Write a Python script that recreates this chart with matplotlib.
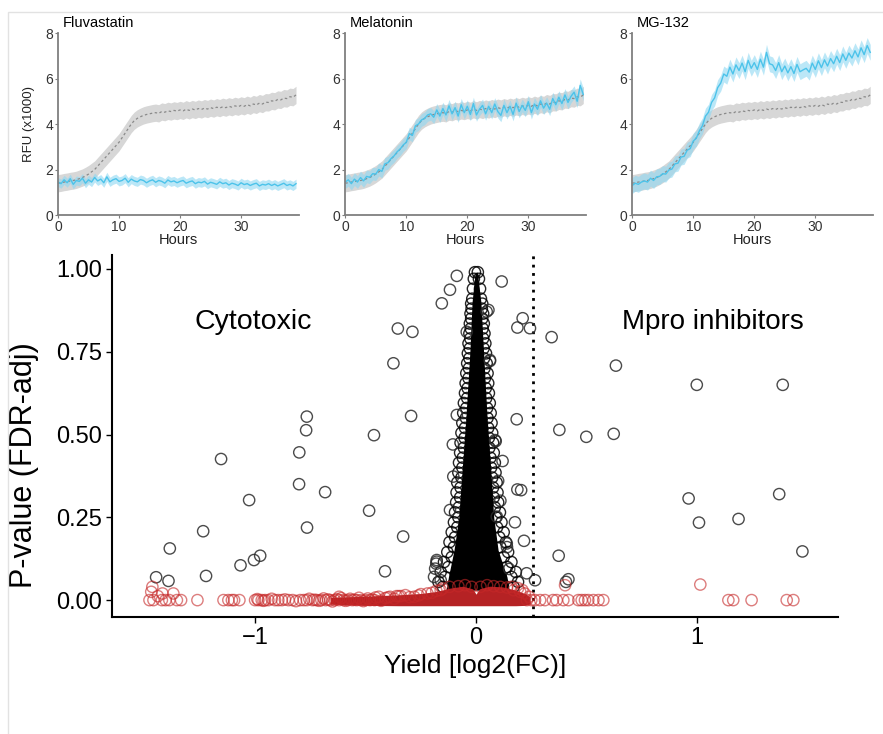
import numpy as np
import matplotlib
matplotlib.use("Agg")
import matplotlib.pyplot as plt
from matplotlib.patches import Rectangle

plt.rcParams["font.family"] = ["Liberation Sans", "DejaVu Sans"]

# ---------------- time course data (RFU x1000, every 0.5 h) ----------------
hours = np.arange(0, 39.5, 0.5)

control = [1.40, 1.42, 1.45, 1.47, 1.50, 1.52, 1.55, 1.60, 1.65, 1.72,
           1.80, 1.90, 2.00, 2.15, 2.30, 2.45, 2.60, 2.75, 2.90, 3.05,
           3.20, 3.40, 3.60, 3.80, 4.00, 4.15, 4.25, 4.32, 4.38, 4.42,
           4.45, 4.48, 4.50, 4.47, 4.55, 4.52, 4.58, 4.55, 4.60, 4.57,
           4.62, 4.58, 4.65, 4.60, 4.66, 4.62, 4.68, 4.64, 4.70, 4.66,
           4.72, 4.68, 4.74, 4.70, 4.76, 4.72, 4.78, 4.74, 4.80, 4.76,
           4.82, 4.78, 4.85, 4.80, 4.88, 4.84, 4.92, 4.88, 4.96, 4.95,
           5.02, 5.00, 5.08, 5.06, 5.14, 5.12, 5.20, 5.18, 5.28]

fluvastatin = [1.45, 1.38, 1.55, 1.42, 1.60, 1.35, 1.52, 1.48, 1.62, 1.40,
               1.55, 1.45, 1.65, 1.50, 1.58, 1.42, 1.68, 1.46, 1.55, 1.60,
               1.48, 1.52, 1.62, 1.44, 1.58, 1.50, 1.46, 1.56, 1.52, 1.42,
               1.50, 1.55, 1.44, 1.52, 1.48, 1.40, 1.54, 1.46, 1.50, 1.42,
               1.48, 1.52, 1.40, 1.46, 1.50, 1.38, 1.45, 1.42, 1.48, 1.36,
               1.44, 1.40, 1.35, 1.46, 1.38, 1.42, 1.32, 1.40, 1.36, 1.30,
               1.42, 1.34, 1.38, 1.30, 1.36, 1.40, 1.28, 1.35, 1.32, 1.38,
               1.30, 1.36, 1.28, 1.34, 1.40, 1.30, 1.35, 1.28, 1.38]

melatonin = [1.45, 1.55, 1.38, 1.58, 1.45, 1.65, 1.50, 1.70, 1.66, 1.82,
             1.80, 2.00, 1.92, 2.25, 2.30, 2.48, 2.60, 2.78, 2.90, 3.08,
             3.20, 3.58, 3.50, 3.92, 4.00, 4.18, 4.25, 4.40, 4.45, 4.30,
             4.62, 4.35, 4.68, 4.40, 4.80, 4.45, 4.72, 4.35, 4.85, 4.50,
             4.78, 4.42, 4.90, 4.40, 4.65, 4.82, 4.45, 4.78, 4.50, 4.88,
             4.55, 4.38, 4.82, 4.50, 4.78, 4.42, 4.92, 4.55, 4.82, 4.60,
             4.98, 4.50, 4.88, 4.65, 5.02, 4.70, 4.92, 4.65, 5.12, 4.85,
             5.18, 4.90, 5.28, 4.95, 5.22, 5.40, 5.00, 5.70, 5.30]

mg132 = [1.30, 1.40, 1.35, 1.45, 1.50, 1.45, 1.62, 1.52, 1.68, 1.70,
         1.82, 1.80, 1.98, 2.02, 2.25, 2.28, 2.55, 2.58, 2.85, 2.92,
         3.25, 3.38, 3.70, 3.92, 4.35, 4.52, 4.95, 5.15, 5.60, 5.80,
         6.20, 6.10, 6.50, 6.20, 6.60, 6.35, 6.68, 6.30, 6.80, 6.45,
         6.70, 6.40, 6.85, 6.50, 7.15, 6.65, 6.60, 6.35, 6.70, 6.30,
         6.55, 6.25, 6.52, 6.22, 6.62, 6.30, 6.38, 6.45, 6.28, 6.68,
         6.40, 6.78, 6.48, 6.82, 6.55, 6.88, 6.65, 6.98, 6.70, 7.08,
         6.80, 7.12, 6.90, 7.22, 6.95, 7.35, 7.05, 7.45, 7.15]

panel_names = ["Fluvastatin", "Melatonin", "MG-132"]
panel_series = [fluvastatin, melatonin, mg132]
panel_spread = [0.2, 0.28, 0.35]   # half width of the blue band
control_spread = 0.38

# ---------------- volcano data ----------------
# scattered black points (yield, p-value)
black_x = [-0.087, -0.118, -0.155, 0.116, -0.354, -0.288, -0.374, 0.048, 0.211, 0.187,
           0.244, 0.342, 0.063, -0.766, -0.769, -0.294, -0.462, -0.800, -1.154, -0.801,
           -0.683, -1.027, -0.484, -0.765, -1.235, -0.330, -1.386, -0.977, -1.005, -1.066,
           -1.222, -1.448, -1.392, -0.412, 0.184, 0.187, 0.176, 0.217, 0.229, 0.267,
           0.089, -0.178, -0.185, 0.633, 0.999, 1.388, 0.377, 0.499, 0.623, 0.962,
           1.009, 1.188, 1.372, 1.477, 0.374, 0.418, 0.407, 0.204, -0.042, 0.056,
           0.063, -0.087, 0.086, -0.103, 0.100, 0.094, -0.118, -0.178, -0.180, 0.139,
           0.140, 0.150, -0.190, -0.160, 0.120, 0.110, -0.105]
black_p = [0.979, 0.937, 0.896, 0.962, 0.820, 0.810, 0.715, 0.871, 0.851, 0.823,
           0.821, 0.794, 0.722, 0.554, 0.513, 0.556, 0.498, 0.446, 0.426, 0.350,
           0.326, 0.302, 0.270, 0.219, 0.208, 0.192, 0.156, 0.134, 0.121, 0.105,
           0.073, 0.069, 0.058, 0.087, 0.546, 0.334, 0.235, 0.179, 0.081, 0.060,
           0.480, 0.116, 0.095, 0.708, 0.650, 0.650, 0.514, 0.493, 0.502, 0.307,
           0.234, 0.245, 0.320, 0.147, 0.134, 0.063, 0.055, 0.332, 0.810, 0.876,
           0.725, 0.559, 0.483, 0.373, 0.360, 0.252, 0.272, 0.121, 0.110, 0.171,
           0.160, 0.094, 0.070, 0.060, 0.420, 0.300, 0.470]

# dense central spike: solid core outline
core_p = [0.030, 0.070, 0.150, 0.250, 0.400, 0.550, 0.750, 0.900, 0.990]
core_left = [-0.135, -0.125, -0.100, -0.078, -0.062, -0.046, -0.028, -0.018, -0.004]
core_right = [0.150, 0.140, 0.100, 0.080, 0.066, 0.050, 0.034, 0.022, 0.006]

# circles along the spike edges (inner ring and outer ring)
ring_p = [0.04, 0.07, 0.10, 0.13, 0.16, 0.19, 0.22, 0.25, 0.28, 0.31,
          0.34, 0.37, 0.40, 0.43, 0.46, 0.49, 0.52, 0.55, 0.58, 0.61,
          0.64, 0.67, 0.70, 0.73, 0.76, 0.79, 0.82, 0.85, 0.88, 0.91,
          0.94, 0.97, 0.99]
ring_left = [-0.150, -0.140, -0.125, -0.110, -0.100, -0.095, -0.085, -0.080, -0.078, -0.072,
             -0.070, -0.066, -0.062, -0.060, -0.055, -0.052, -0.050, -0.046, -0.044, -0.040,
             -0.038, -0.034, -0.032, -0.030, -0.028, -0.026, -0.024, -0.022, -0.020, -0.017,
             -0.014, -0.010, -0.005]
ring_right = [0.170, 0.160, 0.140, 0.125, 0.110, 0.105, 0.095, 0.090, 0.085, 0.080,
              0.077, 0.073, 0.068, 0.065, 0.060, 0.058, 0.055, 0.052, 0.050, 0.046,
              0.044, 0.040, 0.038, 0.036, 0.034, 0.032, 0.030, 0.028, 0.026, 0.022,
              0.018, 0.013, 0.008]
outer_p = [0.055, 0.085, 0.115, 0.145, 0.175, 0.205, 0.235, 0.265, 0.295, 0.325,
           0.355, 0.385, 0.415, 0.445, 0.475, 0.505, 0.535, 0.565, 0.595, 0.625,
           0.655, 0.685, 0.715, 0.745, 0.775, 0.805, 0.835, 0.865, 0.895]
outer_left = [-0.170, -0.160, -0.145, -0.130, -0.120, -0.110, -0.100, -0.095, -0.090, -0.088,
              -0.085, -0.080, -0.077, -0.072, -0.070, -0.066, -0.062, -0.058, -0.055, -0.050,
              -0.047, -0.044, -0.040, -0.037, -0.034, -0.030, -0.028, -0.025, -0.022]
outer_right = [0.190, 0.180, 0.160, 0.145, 0.135, 0.125, 0.115, 0.108, 0.100, 0.097,
               0.093, 0.088, 0.085, 0.080, 0.077, 0.073, 0.070, 0.066, 0.062, 0.058,
               0.055, 0.052, 0.048, 0.045, 0.042, 0.038, 0.035, 0.032, 0.028]

# red (significant) points
red_x = [-1.478, -1.460, -1.422, -1.405, -1.388, -1.354, -1.335, -1.261, -1.143, -1.121,
         -1.105, -1.095, -1.071, -1.000, -0.985, -0.970, -0.955, -0.940, -0.910, -0.895,
         -0.879, -0.849, -0.830, -0.796, -0.780, -0.766, -0.740, -0.720, -0.700, -0.680,
         -0.660, -0.640, -0.620, -0.600, -0.580, -0.560, -0.540, -0.520, -0.500, -0.480,
         -0.460, 0.230, 0.250, 0.267, 0.290, 0.312, 0.348, 0.365, 0.395, 0.418,
         0.463, 0.478, 0.493, 0.508, 0.531, 0.554, 0.576, 1.142, 1.164, 1.247,
         1.406, 1.436, -1.465, -1.470, -1.419, -1.370, -1.440, 0.403, 1.015, -0.620,
         -0.350, 0.220, 0.240, -0.440, -0.400, -0.360, -0.320, -0.280, -0.250, -0.220,
         -0.180, -0.150, -0.120, -0.080, -0.050, -0.020, 0.020, 0.050, 0.080, 0.110,
         0.140, 0.170, 0.200, -0.990, -0.962, -0.925, -0.865, -0.815, -0.755, -0.730,
         -0.710, -0.690, -0.670, -0.650, -0.630, -0.610, -0.590, -0.570, -0.550, -0.530,
         -0.510, -0.490, -0.470, -0.455, -0.430, -0.410, -0.390, -0.370, -0.340, -0.300,
         -0.260, -0.200, -0.160, 0.210, 0.190, 0.160]
red_p = [0.000, 0.000, 0.000, 0.000, 0.000, 0.000, 0.000, 0.000, 0.000, 0.000,
         0.000, 0.000, 0.000, 0.000, 0.000, 0.000, 0.000, 0.000, 0.000, 0.000,
         0.000, 0.000, 0.000, 0.000, 0.000, 0.000, 0.000, 0.000, 0.000, 0.000,
         0.000, 0.000, 0.000, 0.000, 0.000, 0.000, 0.000, 0.000, 0.000, 0.000,
         0.000, 0.000, 0.000, 0.000, 0.000, 0.000, 0.000, 0.000, 0.000, 0.000,
         0.000, 0.000, 0.000, 0.000, 0.000, 0.000, 0.000, 0.000, 0.000, 0.000,
         0.000, 0.000, 0.040, 0.025, 0.020, 0.020, 0.012, 0.045, 0.047, 0.010,
         0.012, 0.020, 0.010, 0.010, 0.008, 0.012, 0.015, 0.010, 0.018, 0.020,
         0.028, 0.035, 0.040, 0.042, 0.045, 0.040, 0.040, 0.045, 0.042, 0.040,
         0.038, 0.030, 0.025, 0.003, -0.002, 0.004, 0.002, -0.003, 0.004, 0.001,
         -0.002, 0.005, 0.002, -0.004, 0.003, 0.006, -0.002, 0.004, 0.001, 0.007,
         -0.003, 0.005, 0.002, 0.008, -0.002, 0.006, 0.010, 0.004, 0.012, 0.009,
         0.014, 0.022, 0.030, 0.030, 0.036, 0.040]

# dense red band along p = 0
band_x = [-0.66, -0.50, -0.35, -0.25, -0.18, -0.12, -0.06, -0.015, 0.00, 0.015, 0.06, 0.12, 0.18, 0.22, 0.245]
band_top = [0.008, 0.012, 0.016, 0.020, 0.026, 0.036, 0.042, 0.034, 0.018, 0.034, 0.042, 0.040, 0.030, 0.020, 0.010]
band_bottom = [-0.012, -0.016, -0.017, -0.017, -0.017, -0.017, -0.017, -0.017, -0.017, -0.017, -0.017, -0.017, -0.017, -0.016, -0.012]

cutoff = 0.258

# ---------------- figure ----------------
fig = plt.figure(figsize=(8.83, 7.34), dpi=100)
fig.add_artist(Rectangle((0.009, -0.01), 1.0, 0.994, transform=fig.transFigure,
                         fill=False, edgecolor="#e2e2e2", linewidth=1))

panel_lefts = [0.0657, 0.391, 0.716]
grey_axis = "#7f7f7f"
for i, (name, series, spread) in enumerate(zip(panel_names, panel_series, panel_spread)):
    ax = fig.add_axes([panel_lefts[i], 0.707, 0.273, 0.248])
    ctrl = np.array(control)
    ax.fill_between(hours, ctrl - control_spread, ctrl + control_spread,
                    color="#d0d0d0", alpha=0.85, linewidth=0)
    ax.plot(hours, ctrl, color="#8a8a8a", linestyle=(0, (2, 2)), linewidth=0.9)
    s = np.array(series)
    ax.fill_between(hours, s - spread, s + spread, color="#8fd8f2", alpha=0.6, linewidth=0)
    ax.plot(hours, s, color="#4cc3ea", linewidth=1.0)
    ax.set_xlim(0, 39.5)
    ax.set_ylim(0, 8)
    ax.set_xticks([0, 10, 20, 30])
    ax.set_yticks([0, 2, 4, 6, 8])
    for side in ["top", "right"]:
        ax.spines[side].set_visible(False)
    for side in ["left", "bottom"]:
        ax.spines[side].set_color(grey_axis)
        ax.spines[side].set_linewidth(1.3)
    ax.tick_params(length=2.5, width=0.8, color=grey_axis, labelsize=10,
                   labelcolor="#333333", pad=1)
    ax.set_xlabel("Hours", fontsize=10.5, labelpad=-1, color="#222222")
    ax.text(0.02, 1.015, name, transform=ax.transAxes, fontsize=10.5, va="bottom", ha="left")
    if i == 0:
        ax.set_ylabel("RFU (x1000)", fontsize=9.5, color="#222222")
        ax.yaxis.set_label_coords(-0.12, 0.5)
        ax.yaxis.label.set_va("center")

# volcano plot
ms = 66
ax = fig.add_axes([0.127, 0.1594, 0.822, 0.4932])
ax.fill_betweenx(core_p, core_left, core_right, color="black", linewidth=0, zorder=2)
for xs, ps in [(ring_left, ring_p), (ring_right, ring_p), (outer_left, outer_p), (outer_right, outer_p)]:
    ax.scatter(xs, ps, s=ms, facecolors="none", edgecolors="black",
               linewidths=1.0, alpha=0.85, zorder=3)
ax.scatter(black_x, black_p, s=ms, facecolors="none", edgecolors="#2b2b2b",
           linewidths=1.0, alpha=0.85, zorder=3)
ax.fill_between(band_x, band_bottom, band_top, color="#b52224", linewidth=0, zorder=4)
ax.scatter(red_x, red_p, s=ms, facecolors="none", edgecolors="#c62828",
           linewidths=1.0, alpha=0.6, zorder=5)
ax.axvline(cutoff, color="black", linestyle=(0, (1, 2)), linewidth=2, zorder=1)

ax.text(-1.01, 0.84, "Cytotoxic", fontsize=20.5, ha="center", va="center")
ax.text(1.07, 0.84, "Mpro inhibitors", fontsize=20, ha="center", va="center")

ax.set_xlim(-1.647, 1.638)
ax.set_ylim(-0.051, 1.042)
ax.set_xticks([-1, 0, 1])
ax.set_yticks([0, 0.25, 0.5, 0.75, 1.0])
ax.set_yticklabels(["0.00", "0.25", "0.50", "0.75", "1.00"])
for side in ["top", "right"]:
    ax.spines[side].set_visible(False)
for side in ["left", "bottom"]:
    ax.spines[side].set_linewidth(1.5)
ax.tick_params(length=4, width=1, labelsize=17, pad=3)
ax.set_xlabel("Yield [log2(FC)]", fontsize=19)
ax.xaxis.set_label_coords(0.5, -0.135)
ax.xaxis.label.set_va("center")
ax.set_ylabel("P-value (FDR-adj)", fontsize=22)
ax.yaxis.set_label_coords(-0.121, 0.42)
ax.yaxis.label.set_va("center")

fig.savefig("out.png", dpi=100)
